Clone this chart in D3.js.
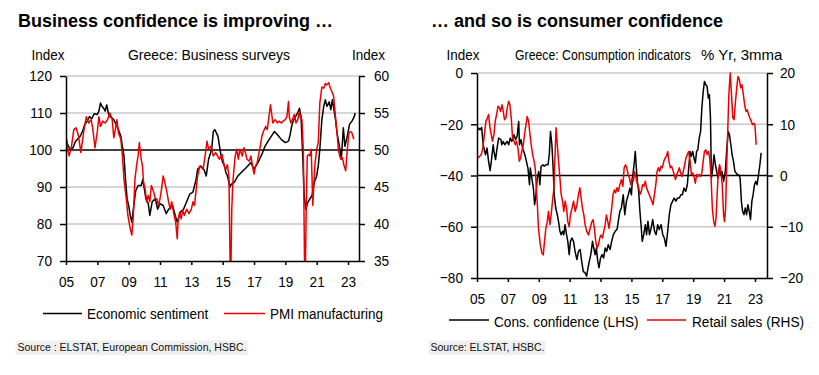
<!DOCTYPE html>
<html>
<head>
<meta charset="utf-8">
<script src="https://cdn.jsdelivr.net/npm/d3@7"></script>
<style>
  body { margin: 0; background: #fff; }
  svg { font-family: "Liberation Sans", Arial, sans-serif; }
</style>
</head>
<body>
<svg id="chart" width="819" height="375"></svg>
<script>
// ---- data: [decimal year, value] ----

// Left panel: Greece business surveys
const econSentiment = [
  [2005.0,103.0],[2005.1,101.5],[2005.25,100.2],[2005.45,100.6],[2005.6,102.3],[2005.9,103.7],
  [2006.05,105.0],[2006.2,106.9],[2006.35,107.8],[2006.5,109.0],[2006.65,108.5],[2006.8,109.8],
  [2007.0,109.6],[2007.1,110.5],[2007.2,112.7],[2007.3,111.8],[2007.4,111.3],[2007.5,110.5],
  [2007.6,112.2],[2007.7,110.0],[2007.8,109.0],[2007.95,108.6],[2008.05,108.2],[2008.2,106.9],
  [2008.35,105.5],[2008.5,103.7],[2008.6,101.0],[2008.7,98.4],[2008.8,92.0],[2008.9,86.8],
  [2009.0,85.0],[2009.1,82.3],[2009.2,80.5],[2009.3,84.0],[2009.45,89.0],[2009.6,90.4],
  [2009.8,90.4],[2009.9,92.0],[2010.0,89.5],[2010.1,86.8],[2010.25,85.5],[2010.35,82.3],
  [2010.5,86.0],[2010.7,86.8],[2010.85,84.0],[2011.0,85.5],[2011.2,85.0],[2011.4,82.8],
  [2011.55,84.0],[2011.8,85.0],[2012.0,81.9],[2012.1,80.5],[2012.3,83.2],[2012.5,84.0],
  [2012.7,86.0],[2012.9,88.1],[2013.1,88.6],[2013.3,92.0],[2013.4,94.8],[2013.6,95.7],
  [2013.8,94.8],[2013.95,93.0],[2014.1,97.5],[2014.3,100.2],[2014.4,105.0],[2014.5,105.5],
  [2014.7,103.7],[2014.8,101.0],[2014.9,98.4],[2015.0,96.6],[2015.1,96.0],[2015.2,94.0],
  [2015.3,93.0],[2015.47,90.0],[2015.56,90.8],[2015.75,91.3],[2015.97,93.0],[2016.2,94.0],
  [2016.4,94.8],[2016.6,95.7],[2016.8,96.6],[2017.0,94.8],[2017.25,96.6],[2017.5,98.8],
  [2017.7,101.0],[2017.9,102.4],[2018.1,103.7],[2018.3,105.0],[2018.5,104.1],[2018.75,102.8],
  [2019.0,102.0],[2019.2,102.4],[2019.3,104.0],[2019.4,106.4],[2019.5,107.8],[2019.65,109.0],
  [2019.8,110.2],[2019.9,111.3],[2020.0,109.0],[2020.1,99.3],[2020.2,87.7],[2020.3,84.0],
  [2020.45,86.0],[2020.7,87.7],[2020.85,91.3],[2021.0,93.0],[2021.1,95.7],[2021.2,100.2],
  [2021.33,108.2],[2021.45,111.8],[2021.55,113.6],[2021.65,111.8],[2021.8,113.0],[2021.9,110.9],
  [2022.0,113.6],[2022.2,108.2],[2022.3,104.6],[2022.45,101.0],[2022.57,97.5],[2022.7,106.0],
  [2022.8,101.0],[2022.95,103.7],[2023.1,107.0],[2023.25,107.8],[2023.4,109.0],[2023.45,110.0]
];

const pmiManufacturing = [
  [2005.0,52.1],[2005.1,50.1],[2005.2,49.2],[2005.35,50.5],[2005.5,52.75],[2005.65,53.0],
  [2005.8,51.85],[2005.95,49.65],[2006.0,50.5],[2006.15,52.75],[2006.3,54.5],[2006.45,53.65],
  [2006.6,54.1],[2006.7,53.0],[2006.85,50.3],[2007.0,52.5],[2007.1,54.5],[2007.2,53.2],
  [2007.35,53.9],[2007.5,53.65],[2007.65,54.1],[2007.8,55.0],[2007.95,54.1],[2008.05,51.65],
  [2008.15,52.75],[2008.25,54.1],[2008.35,52.3],[2008.5,51.45],[2008.6,49.2],[2008.7,46.0],
  [2008.85,43.4],[2008.95,41.15],[2009.1,39.35],[2009.2,38.5],[2009.3,41.15],[2009.4,46.0],
  [2009.5,47.85],[2009.6,49.2],[2009.68,51.0],[2009.8,48.75],[2009.88,47.85],[2009.95,45.65],
  [2010.05,44.75],[2010.15,43.0],[2010.25,43.85],[2010.35,43.0],[2010.45,45.2],[2010.6,44.3],
  [2010.7,43.4],[2010.8,43.4],[2010.9,42.5],[2011.0,43.4],[2011.1,44.75],[2011.2,46.5],
  [2011.3,45.65],[2011.4,44.75],[2011.55,43.0],[2011.65,42.0],[2011.75,43.0],[2011.9,41.15],
  [2012.0,40.25],[2012.1,38.0],[2012.15,40.25],[2012.25,41.6],[2012.35,40.7],[2012.45,41.85],
  [2012.55,41.15],[2012.7,42.0],[2012.85,41.4],[2013.0,42.0],[2013.1,43.0],[2013.2,42.5],
  [2013.4,46.5],[2013.55,47.85],[2013.75,47.4],[2013.85,48.75],[2014.0,51.2],[2014.1,50.1],
  [2014.25,50.5],[2014.4,49.2],[2014.55,49.65],[2014.8,48.75],[2014.96,49.4],[2015.1,47.85],
  [2015.2,47.4],[2015.3,48.0],[2015.4,46.5],[2015.5,30.2],[2015.58,42.0],[2015.65,45.65],
  [2015.72,47.4],[2015.8,49.2],[2015.9,50.1],[2016.0,48.75],[2016.1,50.1],[2016.25,49.2],
  [2016.35,50.3],[2016.45,49.65],[2016.55,48.75],[2016.7,48.5],[2016.8,49.2],[2016.9,47.85],
  [2017.0,46.75],[2017.1,47.85],[2017.2,48.3],[2017.3,49.4],[2017.4,50.5],[2017.5,51.85],
  [2017.6,52.5],[2017.75,53.2],[2017.85,52.75],[2017.95,54.5],[2018.05,56.1],[2018.12,55.0],
  [2018.2,53.65],[2018.35,54.1],[2018.5,53.65],[2018.6,53.9],[2018.75,53.65],[2018.85,53.9],
  [2019.0,54.1],[2019.1,54.5],[2019.2,56.55],[2019.25,54.5],[2019.35,53.65],[2019.45,54.1],
  [2019.57,54.8],[2019.68,53.65],[2019.8,54.1],[2019.88,55.2],[2019.97,54.35],[2020.06,54.1],
  [2020.15,49.65],[2020.25,29.5],[2020.33,42.0],[2020.4,49.2],[2020.5,49.4],[2020.56,49.2],
  [2020.65,50.1],[2020.75,42.5],[2020.83,46.0],[2020.9,48.3],[2021.0,50.1],[2021.1,51.0],
  [2021.2,56.35],[2021.33,58.5],[2021.45,58.35],[2021.55,59.0],[2021.65,58.8],[2021.77,59.1],
  [2021.87,58.35],[2021.97,57.9],[2022.08,57.25],[2022.2,54.5],[2022.3,52.3],[2022.38,50.1],
  [2022.47,49.2],[2022.55,48.75],[2022.65,48.95],[2022.73,48.0],[2022.85,47.2],[2022.94,49.65],
  [2023.05,52.3],[2023.15,52.5],[2023.25,52.3],[2023.37,51.45]
];

// Right panel: Greece consumption indicators
const consConfidence = [
  [2005.0,-22.8],[2005.1,-21.5],[2005.2,-22.1],[2005.3,-21.2],[2005.4,-28],[2005.55,-31.9],
  [2005.65,-29.3],[2005.75,-34.5],[2005.85,-38.1],[2005.95,-33.2],[2006.05,-28],[2006.1,-30.6],
  [2006.2,-33.8],[2006.3,-29.3],[2006.4,-25.4],[2006.55,-26],[2006.6,-28],[2006.7,-26.7],
  [2006.8,-28],[2006.95,-26.7],[2007.05,-28],[2007.15,-25.4],[2007.25,-26.7],[2007.4,-24.1],
  [2007.5,-26],[2007.6,-24.7],[2007.7,-18.9],[2007.75,-28],[2007.85,-26],[2007.95,-29.3],
  [2008.1,-31.9],[2008.2,-34.5],[2008.3,-37.1],[2008.4,-43.6],[2008.45,-37.1],[2008.55,-41],
  [2008.65,-44.9],[2008.73,-51.4],[2008.8,-48.8],[2008.9,-41],[2009.0,-38.4],[2009.07,-43.6],
  [2009.15,-36.4],[2009.27,-35.8],[2009.35,-36.4],[2009.46,-35.8],[2009.6,-35.8],[2009.68,-31.9],
  [2009.76,-22.8],[2009.85,-28],[2009.93,-37.1],[2010.0,-47.5],[2010.1,-52.7],[2010.2,-55.3],
  [2010.28,-57.9],[2010.37,-61.8],[2010.45,-63.1],[2010.54,-61.8],[2010.62,-63.1],[2010.7,-59.2],
  [2010.8,-63.1],[2010.88,-65.7],[2010.97,-70.9],[2011.05,-65.7],[2011.15,-64.4],[2011.25,-65.7],
  [2011.35,-69.6],[2011.47,-72.8],[2011.57,-69.6],[2011.68,-68.9],[2011.78,-73.5],[2011.88,-77.4],
  [2012.0,-78],[2012.1,-79.3],[2012.17,-76.7],[2012.27,-73.5],[2012.37,-70.9],[2012.48,-65.7],
  [2012.56,-68.3],[2012.65,-70.9],[2012.73,-68.3],[2012.82,-73.5],[2012.9,-76],[2013.0,-72.2],
  [2013.1,-70.9],[2013.2,-72.2],[2013.3,-68.3],[2013.4,-69.6],[2013.5,-67],[2013.62,-68.9],
  [2013.72,-65.7],[2013.83,-63.1],[2013.95,-61.8],[2014.07,-61],[2014.25,-54],[2014.35,-52.7],
  [2014.47,-47.5],[2014.57,-55.3],[2014.68,-50],[2014.8,-47.5],[2014.9,-44.9],[2015.0,-47.5],
  [2015.07,-41],[2015.17,-35.8],[2015.25,-30.6],[2015.32,-37.1],[2015.38,-42.3],[2015.47,-46.2],
  [2015.55,-54],[2015.64,-60.5],[2015.7,-65.7],[2015.8,-63.1],[2015.9,-59.2],[2015.98,-63.1],
  [2016.07,-57.9],[2016.17,-63.1],[2016.28,-60.5],[2016.38,-57.2],[2016.5,-61.8],[2016.6,-63.1],
  [2016.7,-59.2],[2016.8,-61.1],[2016.92,-59.2],[2017.03,-63.1],[2017.13,-64.4],[2017.24,-67.6],
  [2017.35,-61.8],[2017.45,-55.3],[2017.56,-51.4],[2017.67,-50],[2017.77,-48.8],[2017.88,-50],
  [2017.98,-48.8],[2018.1,-48.8],[2018.2,-47.5],[2018.3,-47.5],[2018.4,-44.9],[2018.52,-46.2],
  [2018.62,-43.6],[2018.71,-37.1],[2018.8,-30.6],[2018.88,-32.5],[2018.97,-30.6],[2019.05,-33.2],
  [2019.14,-35.1],[2019.22,-30.6],[2019.3,-29.9],[2019.39,-25.4],[2019.48,-22.8],[2019.56,-13.7],
  [2019.65,-7.2],[2019.73,-3.3],[2019.82,-4.6],[2019.9,-5.2],[2019.98,-9.8],[2020.05,-8.5],
  [2020.12,-17.6],[2020.18,-41],[2020.27,-37.1],[2020.35,-31.9],[2020.44,-35.8],[2020.52,-38.4],
  [2020.61,-41],[2020.7,-37.1],[2020.78,-39.7],[2020.86,-38.4],[2020.97,-42.3],[2021.08,-38.4],
  [2021.18,-29.3],[2021.27,-22.8],[2021.35,-24.1],[2021.44,-28],[2021.52,-31.9],[2021.61,-34.5],
  [2021.7,-38.4],[2021.78,-39],[2021.87,-39.7],[2021.95,-39.7],[2022.04,-41],[2022.12,-50],
  [2022.2,-54],[2022.29,-55.3],[2022.37,-52.7],[2022.46,-55.3],[2022.54,-51.4],[2022.63,-54],
  [2022.71,-57.2],[2022.8,-50],[2022.88,-47.5],[2022.97,-43.6],[2023.05,-42.3],[2023.14,-43.6],
  [2023.23,-39.7],[2023.32,-35.8],[2023.4,-31.2]
];

const retailSales = [
  [2005.0,3.7],[2005.1,3.5],[2005.28,4.1],[2005.38,5.4],[2005.5,8.6],[2005.58,10.6],[2005.67,11.2],
  [2005.75,11.9],[2005.84,9.3],[2005.92,8],[2006.0,6.7],[2006.1,8],[2006.18,10.6],[2006.27,11.9],
  [2006.36,13.5],[2006.45,13.2],[2006.53,12.5],[2006.62,13.8],[2006.7,12.5],[2006.78,10.9],
  [2006.87,11.2],[2006.96,13.2],[2007.05,14.5],[2007.13,13.8],[2007.22,11.2],[2007.3,7.3],
  [2007.4,6.7],[2007.48,6],[2007.56,6.7],[2007.65,5.4],[2007.74,2.8],[2007.82,3.4],[2007.9,4.7],
  [2008.0,6],[2008.08,8],[2008.17,9.9],[2008.25,11.5],[2008.34,10.6],[2008.43,8],[2008.51,6],
  [2008.6,4.1],[2008.68,3.1],[2008.77,1.5],[2008.83,-1.8],[2008.92,-6.4],[2008.98,-10.3],
  [2009.1,-13.5],[2009.2,-15.1],[2009.29,-15.5],[2009.37,-12.9],[2009.46,-10.3],[2009.55,-9],
  [2009.63,-7],[2009.72,-9.6],[2009.8,-7.7],[2009.89,-5],[2009.98,-2.4],[2010.04,2.8],
  [2010.12,9.3],[2010.2,6],[2010.28,2.8],[2010.37,-0.5],[2010.45,-3.7],[2010.54,-5],[2010.62,-7],
  [2010.71,-5],[2010.8,-6.4],[2010.88,-9],[2010.97,-10],[2011.05,-7.7],[2011.15,-6.4],
  [2011.25,-5],[2011.36,-7],[2011.47,-5.7],[2011.57,-3.7],[2011.66,-2.4],[2011.74,-4.4],
  [2011.83,-6.4],[2011.92,-7.7],[2012.0,-9.6],[2012.11,-10.9],[2012.22,-11.6],[2012.33,-10.3],
  [2012.44,-9],[2012.52,-8.6],[2012.6,-10.3],[2012.69,-12.9],[2012.78,-14.2],[2012.86,-13.5],
  [2012.95,-12.2],[2013.03,-11.6],[2013.12,-12.2],[2013.21,-10.9],[2013.3,-9.6],[2013.38,-7.7],
  [2013.47,-9],[2013.55,-10.3],[2013.64,-8.3],[2013.72,-6.4],[2013.81,-3.7],[2013.9,-2.8],
  [2013.98,-3.4],[2014.07,-2.4],[2014.15,-3.1],[2014.25,-1.8],[2014.36,-0.8],[2014.45,-2.1],
  [2014.53,1.5],[2014.62,2.1],[2014.7,1.5],[2014.79,0.2],[2014.87,-0.5],[2014.96,-1.8],
  [2015.04,-0.5],[2015.13,-1.1],[2015.2,0.8],[2015.3,-0.5],[2015.38,-1.5],[2015.47,-2.4],
  [2015.55,-3.7],[2015.64,-3.1],[2015.72,-1.8],[2015.81,-2.1],[2015.9,-1.1],[2015.98,-2.4],
  [2016.07,-3.1],[2016.15,-3.7],[2016.24,-4.4],[2016.32,-5],[2016.4,-5.7],[2016.49,-3.7],
  [2016.58,-1.8],[2016.66,0.8],[2016.75,1.5],[2016.83,0.8],[2016.92,1.8],[2017.0,1.5],
  [2017.1,2.8],[2017.18,3.4],[2017.26,3.7],[2017.35,4.7],[2017.43,2.8],[2017.52,1.5],
  [2017.6,1.8],[2017.68,1.1],[2017.77,0.2],[2017.85,-0.8],[2017.94,0.2],[2018.02,0.8],
  [2018.1,1.5],[2018.19,0.5],[2018.28,-0.2],[2018.36,0.8],[2018.45,2.1],[2018.53,3.4],
  [2018.62,4.1],[2018.7,4.7],[2018.8,2.8],[2018.88,0.2],[2018.97,0.5],[2019.05,-0.2],
  [2019.14,-1.5],[2019.22,0.2],[2019.3,-0.2],[2019.39,0.2],[2019.48,-0.2],[2019.56,0.5],
  [2019.65,2.8],[2019.73,4.7],[2019.82,5],[2019.9,4.1],[2019.99,4.7],[2020.07,3.4],
  [2020.16,-0.5],[2020.24,-6.4],[2020.33,-9],[2020.41,-9.9],[2020.48,-8.3],[2020.55,-3.7],
  [2020.63,0.8],[2020.71,2.1],[2020.8,0.8],[2020.88,-1.8],[2020.97,-7.7],[2021.03,-9],
  [2021.1,-6.4],[2021.16,0.8],[2021.23,8],[2021.31,15.8],[2021.4,20],[2021.48,15.8],
  [2021.57,11.2],[2021.65,10.9],[2021.74,14.5],[2021.82,17.1],[2021.9,19.3],[2021.99,18.7],
  [2022.08,17.1],[2022.16,17.7],[2022.25,15.8],[2022.33,13.8],[2022.42,12.5],[2022.5,12.8],
  [2022.59,11.9],[2022.67,11.2],[2022.76,10.6],[2022.84,9.9],[2022.93,10.2],[2023.0,9.9],
  [2023.08,6]
];

const xTickYears = [2005, 2007, 2009, 2011, 2013, 2015, 2017, 2019, 2021, 2023];
const bizLeftTicks = [70, 80, 90, 100, 110, 120];
const bizRightTicks = [35, 40, 45, 50, 55, 60];
const conLeftTicks = [-80, -60, -40, -20, 0];
const conRightTicks = [-20, -10, 0, 10, 20];

const BLACK = "#000";
const RED = "#ee0000";
const GRID = "#c8c8c8";
const SQUEEZE = 0.88;

const svg = d3.select("#chart");

// compress tick text horizontally (source chart uses a narrow face)
function squeeze(sel, k) {
  sel.each(function () {
    const w = this.getComputedTextLength();
    d3.select(this).attr("textLength", w * k).attr("lengthAdjust", "spacingAndGlyphs");
  });
}

// text placed at (x, y) and narrowed by k
function narrowText(parent, x, y, k, size, str) {
  return parent.append("text")
    .attr("transform", `translate(${x},${y}) scale(${k},1)`)
    .style("font-size", size).text(str);
}

function styleAxis(g) {
  g.attr("font-size", null).attr("font-family", null);
  g.select(".domain").attr("stroke", BLACK).attr("stroke-width", 1.5);
  g.selectAll(".tick line").attr("stroke", BLACK).attr("stroke-width", 1.5);
  g.selectAll(".tick text").attr("fill", BLACK).style("font-size", "15.5px");
  squeeze(g.selectAll(".tick text"), SQUEEZE);
}

function drawPanel(p) {
  const x = d3.scaleLinear().domain(p.xDomain).range([p.left, p.right]);
  const yL = d3.scaleLinear().domain(p.leftDomain).range([p.bottom, p.top]);
  const yR = d3.scaleLinear().domain(p.rightDomain).range([p.bottom, p.top]);

  const g = svg.append("g");

  // title
  g.append("text").attr("x", p.titleX).attr("y", 26.5)
    .style("font-size", "18px").style("font-weight", "bold").text(p.title);

  // header line
  p.headers.forEach((h) => narrowText(g, h.x, 60, h.k, "15px", h.text));

  // gridlines
  g.selectAll(".grid").data(p.leftTicks.filter((v) => v !== p.leftDomain[0]))
    .enter().append("line")
    .attr("x1", p.left).attr("x2", p.right)
    .attr("y1", (d) => yL(d)).attr("y2", (d) => yL(d))
    .attr("stroke", (d) => (d === p.baseline ? BLACK : GRID))
    .attr("stroke-width", (d) => (d === p.baseline ? 1.6 : 1.4));

  // clip
  const clipId = "clip-" + p.id;
  svg.append("clipPath").attr("id", clipId).append("rect")
    .attr("x", p.left).attr("y", p.top - 2)
    .attr("width", p.right - p.left).attr("height", p.bottom - p.top + 2);

  const lineL = d3.line().x((d) => x(d[0])).y((d) => yL(d[1]));
  const lineR = d3.line().x((d) => x(d[0])).y((d) => yR(d[1]));

  const lines = g.append("g").attr("clip-path", `url(#${clipId})`);
  lines.append("path").datum(p.blackSeries).attr("d", lineL)
    .attr("fill", "none").attr("stroke", BLACK).attr("stroke-width", 1.5)
    .attr("stroke-linejoin", "round");
  lines.append("path").datum(p.redSeries).attr("d", lineR)
    .attr("fill", "none").attr("stroke", RED).attr("stroke-width", 1.5)
    .attr("stroke-linejoin", "round");

  // axes
  g.append("g").attr("transform", `translate(${p.left},0)`)
    .call(d3.axisLeft(yL).tickValues(p.leftTicks).tickSize(6).tickPadding(8).tickSizeOuter(0))
    .call(styleAxis);
  g.append("g").attr("transform", `translate(${p.right},0)`)
    .call(d3.axisRight(yR).tickValues(p.rightTicks).tickSize(6).tickPadding(p.rightPad).tickSizeOuter(0))
    .call(styleAxis);
  g.append("g").attr("transform", `translate(0,${p.bottom})`)
    .call(d3.axisBottom(x).tickValues(xTickYears).tickSize(4).tickPadding(11).tickSizeOuter(0)
      .tickFormat((d) => String(d % 100).padStart(2, "0")))
    .call(styleAxis);

  // legend
  p.legend.forEach((l) => {
    g.append("line").attr("x1", l.x1).attr("x2", l.x2)
      .attr("y1", p.legendY).attr("y2", p.legendY)
      .attr("stroke", l.color).attr("stroke-width", 1.5);
    narrowText(g, l.tx, p.legendTextY, l.k, "15.5px", l.text);
  });

  // source, on a faint grey band
  const band = g.append("rect").attr("fill", "#efefef");
  const src = g.append("text").attr("x", p.titleX - 0.5).attr("y", 350.5)
    .style("font-size", "10.5px").attr("fill", "#111").text(p.source);
  const bb = src.node().getBBox();
  band.attr("x", bb.x - 2).attr("y", 340.5).attr("width", bb.width + 3).attr("height", 14.5);
}

drawPanel({
  id: "biz",
  left: 66, right: 359, top: 76, bottom: 261,
  xDomain: [2005, 2023.7],
  leftDomain: [70, 120], rightDomain: [35, 60],
  leftTicks: bizLeftTicks, rightTicks: bizRightTicks,
  baseline: 100, rightPad: 9,
  blackSeries: econSentiment, redSeries: pmiManufacturing,
  titleX: 18, title: "Business confidence is improving …",
  headers: [
    { x: 31.5, text: "Index", k: 0.9 },
    { x: 128, text: "Greece: Business surveys", k: 0.93 },
    { x: 352, text: "Index", k: 0.9 }
  ],
  legendY: 313.5, legendTextY: 319,
  legend: [
    { x1: 43, x2: 82, tx: 87, color: BLACK, text: "Economic sentiment", k: 0.87 },
    { x1: 224, x2: 265, tx: 270, color: RED, text: "PMI manufacturing", k: 0.87 }
  ],
  source: "Source : ELSTAT, European Commission, HSBC."
});

drawPanel({
  id: "con",
  left: 477, right: 767, top: 73, bottom: 278,
  xDomain: [2005, 2023.78],
  leftDomain: [-80, 0], rightDomain: [-20, 20],
  leftTicks: conLeftTicks, rightTicks: conRightTicks,
  baseline: -40, rightPad: 7,
  blackSeries: consConfidence, redSeries: retailSales,
  titleX: 431, title: "… and so is consumer confidence",
  headers: [
    { x: 446.5, text: "Index", k: 0.9 },
    { x: 515, text: "Greece: Consumption indicators", k: 0.82 },
    { x: 701, text: "% Yr, 3mma", k: 1.0 }
  ],
  legendY: 320, legendTextY: 327,
  legend: [
    { x1: 449, x2: 489, tx: 494, color: BLACK, text: "Cons. confidence (LHS)", k: 0.88 },
    { x1: 647, x2: 686, tx: 692, color: RED, text: "Retail sales (RHS)", k: 0.88 }
  ],
  source: "Source: ELSTAT, HSBC."
});
</script>
</body>
</html>
